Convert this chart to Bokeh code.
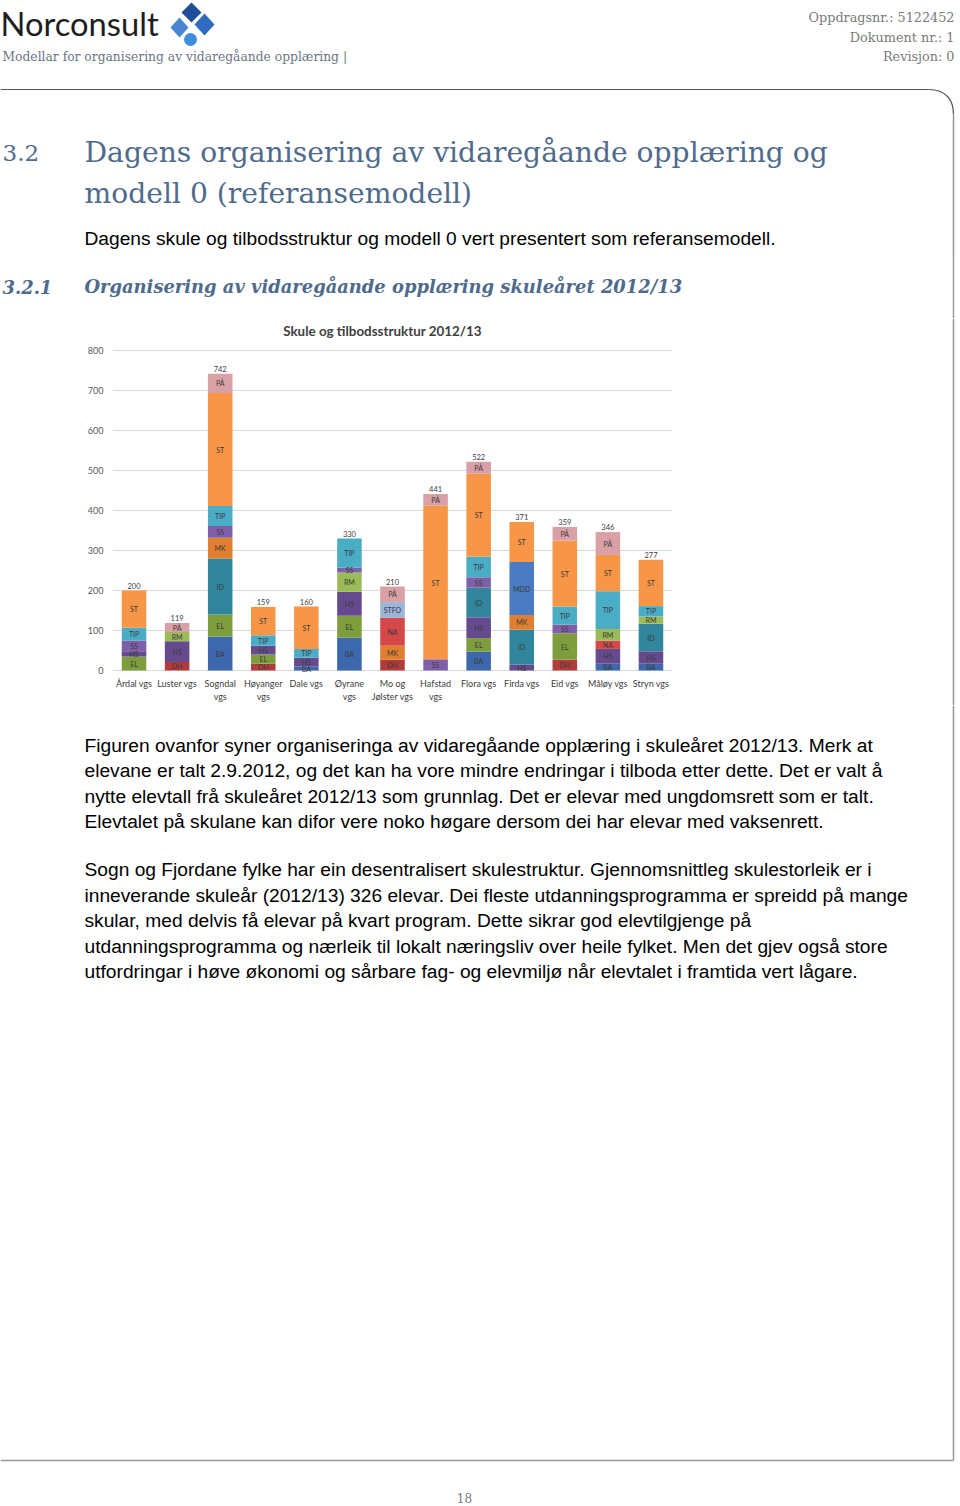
from bokeh.plotting import figure
from bokeh.layouts import column, row
from bokeh.models import Range1d, FactorRange, ColumnDataSource, FixedTicker
from bokeh.core.properties import value
from bokeh.embed import file_html
from bokeh.resources import INLINE

# ---------------- data ----------------
schools = ["Årdal vgs", "Luster vgs", "Sogndal vgs", "Høyanger vgs", "Dale vgs",
           "Øyrane vgs", "Mo og Jølster vgs", "Hafstad vgs", "Flora vgs",
           "Firda vgs", "Eid vgs", "Måløy vgs", "Stryn vgs"]
school_labels = ["Årdal vgs", "Luster vgs", "Sogndal\nvgs", "Høyanger\nvgs", "Dale vgs",
                 "Øyrane\nvgs", "Mo og\nJølster vgs", "Hafstad\nvgs", "Flora vgs",
                 "Firda vgs", "Eid vgs", "Måløy vgs", "Stryn vgs"]
totals = [200, 119, 742, 159, 160, 330, 210, 441, 522, 371, 359, 346, 277]

programmes = [
    ["EL", "HS", "SS", "TIP", "ST"],
    ["DH", "HS", "RM", "PÅ"],
    ["BA", "EL", "ID", "MK", "SS", "TIP", "ST", "PÅ"],
    ["DH", "EL", "HS", "TIP", "ST"],
    ["BA", "HS", "TIP", "ST"],
    ["BA", "EL", "HS", "RM", "SS", "TIP"],
    ["DH", "MK", "NA", "STFO", "PÅ"],
    ["SS", "ST", "PÅ"],
    ["BA", "EL", "HS", "ID", "SS", "TIP", "ST", "PÅ"],
    ["HS", "ID", "MK", "MDD", "ST"],
    ["DH", "EL", "SS", "TIP", "ST", "PÅ"],
    ["BA", "HS", "NA", "RM", "TIP", "ST", "PÅ"],
    ["BA", "HS", "ID", "RM", "TIP", "ST"],
]
students = [
    [35, 13, 27, 32, 93],
    [21, 52, 23, 23],
    [85, 55, 140, 52, 29, 50, 283, 48],
    [17, 23, 22, 26, 71],
    [10, 22, 22, 106],
    [82, 55, 60, 48, 12, 73],
    [27, 35, 70, 39, 39],
    [28, 384, 29],
    [47, 34, 52, 74, 26, 52, 207, 30],
    [15, 87, 37, 132, 100],
    [27, 66, 22, 45, 165, 34],
    [17, 37, 21, 29, 94, 91, 57],
    [17, 31, 69, 18, 26, 116],
]
y_ticks = [0, 100, 200, 300, 400, 500, 600, 700, 800]
chart_title = "Skule og tilbodsstruktur 2012/13"

programme_colors = {
    "ST": "#F79646", "PÅ": "#D9A0A6", "TIP": "#4BACC6", "SS": "#7F5FA8",
    "MK": "#E07F30", "ID": "#31859C", "EL": "#7E9E3E", "BA": "#3D68AE",
    "HS": "#654A8D", "RM": "#9BBB59", "DH": "#B23B3B", "NA": "#D6474A",
    "STFO": "#9AB5D9", "MDD": "#4A7BC3",
}

TEXT_SANS = "Liberation Sans"
SERIF = "DejaVu Serif"
HEAD_COL = "#4F6B8C"
BORDER = "#999999"

# ---------------- header ----------------
hdr = figure(width=960, height=318, x_range=Range1d(0, 960), y_range=Range1d(318, 0),
             x_axis_type=None, y_axis_type=None, output_backend="svg",
             toolbar_location=None, min_border=0)
hdr.outline_line_color = None
hdr.grid.visible = False

hdr.text(x=[0], y=[23], text=["Norconsult"], text_font=value("Lato"),
         text_font_size="32.7px", text_color="#1e1e1e", text_baseline="middle")
# logo
hdr.patches(xs=[[191, 201, 191, 181], [179, 188, 179, 170], [204, 214, 204, 194]],
            ys=[[2, 12, 22, 12], [17, 27, 37, 27], [13, 24, 35, 24]],
            fill_color=["#1F4E9A", "#4A86D0", "#2F6CC0"], line_color=None)
hdr.scatter(x=[190], y=[39], size=13, fill_color="#3E8EDC", line_color=None)

hdr.text(x=[2], y=[56], text=["Modellar for organisering av vidaregåande opplæring |"],
         text_font=value(SERIF), text_font_size="12.3px", text_color="#6A7682",
         text_baseline="middle")
hdr.text(x=[954, 954, 954], y=[17, 37, 56],
         text=["Oppdragsnr.: 5122452", "Dokument nr.: 1", "Revisjon: 0"],
         text_font=value(SERIF), text_font_size="12.8px", text_color="#7A7A7A",
         text_align="right", text_baseline="middle")

# page frame
hdr.segment(x0=[0], y0=[89], x1=[928], y1=[89], line_color="#555555", line_width=1.2)
hdr.bezier(x0=[928], y0=[89], x1=[953], y1=[114], cx0=[946], cy0=[89], cx1=[953], cy1=[100],
           line_color="#555555", line_width=1.2)
hdr.segment(x0=[953], y0=[114], x1=[953], y1=[318], line_color=BORDER, line_width=1.5)

hdr.text(x=[2], y=[152], text=["3.2"], text_font=value(SERIF), text_font_size="23px",
         text_color=HEAD_COL, text_baseline="middle")
hdr.text(x=[84, 84], y=[152, 193],
         text=["Dagens organisering av vidaregåande opplæring og", "modell 0 (referansemodell)"],
         text_font=value(SERIF), text_font_size="28.2px", text_color=HEAD_COL,
         text_baseline="middle")
hdr.text(x=[84], y=[238],
         text=["Dagens skule og tilbodsstruktur og modell 0 vert presentert som referansemodell."],
         text_font=value(TEXT_SANS), text_font_size="19.2px", text_color="#000000",
         text_baseline="middle")
hdr.text(x=[2, 84], y=[286, 286],
         text=["3.2.1", "Organisering av vidaregåande opplæring skuleåret 2012/13"],
         text_font=value(SERIF), text_font_size="17.9px", text_font_style="bold italic",
         text_color=HEAD_COL, text_baseline="middle")

# ---------------- chart ----------------
rows = dict(school=[], bottom=[], top=[], mid=[], prog=[], color=[])
for s, progs, vals in zip(schools, programmes, students):
    base = 0
    for pname, v in zip(progs, vals):
        rows["school"].append(s)
        rows["bottom"].append(base)
        rows["top"].append(base + v)
        rows["mid"].append(base + v / 2)
        rows["prog"].append(pname)
        rows["color"].append(programme_colors[pname])
        base += v
src = ColumnDataSource(rows)

# frame spans the whole chart band (page y 318..705); 0.4 px per student
chart = figure(width=672, height=387, x_range=FactorRange(*schools),
               y_range=Range1d(-87.5, 880),
               output_backend="svg", toolbar_location=None,
               min_border_left=112, min_border_right=0, min_border_top=0, min_border_bottom=0)
chart.outline_line_color = None
chart.xgrid.visible = False
chart.xaxis.visible = False
chart.ygrid.grid_line_color = "#D9D9D9"
chart.ygrid.grid_line_width = 1

chart.vbar(x="school", bottom="bottom", top="top", width=0.57, fill_color="color",
           line_color=None, source=src)
chart.text(x="school", y="mid", text="prog", source=src, text_align="center",
           text_baseline="middle", text_font=value("Lato"), text_font_size="7px",
           text_color="#3A3A3A")
chart.text(x=schools, y=totals, text=[str(t) for t in totals], text_align="center",
           text_baseline="bottom", y_offset=-2, text_font=value("Lato"),
           text_font_size="7.5px", text_color="#404040")
# category labels under the baseline
chart.text(x=schools, y=[0] * len(schools), text=school_labels, text_align="center",
           text_baseline="top", y_offset=7, text_font=value("Lato"),
           text_font_size="9px", text_color="#404040", text_line_height=1.25)
# chart title
chart.text(x=["Mo og Jølster vgs"], y=[y_ticks[-1]], text=[chart_title], text_align="center",
           text_baseline="middle", x_offset=-10, y_offset=-20, text_font=value("Lato"),
           text_font_size="13.4px", text_font_style="bold", text_color="#404040")

chart.yaxis.ticker = FixedTicker(ticks=y_ticks)
chart.yaxis.axis_line_color = None
chart.yaxis.major_tick_line_color = None
chart.yaxis.major_tick_out = 0
chart.yaxis.minor_tick_line_color = None
chart.yaxis.major_label_text_font = "Lato"
chart.yaxis.major_label_text_font_size = "9px"
chart.yaxis.major_label_text_color = "#595959"
chart.yaxis.major_label_standoff = 9

side = figure(width=288, height=387, x_range=Range1d(672, 960), y_range=Range1d(705, 318),
              x_axis_type=None, y_axis_type=None, output_backend="svg",
              toolbar_location=None, min_border=0)
side.outline_line_color = None
side.grid.visible = False
side.segment(x0=[953], y0=[318], x1=[953], y1=[705], line_color=BORDER, line_width=1.5)

# ---------------- footer ----------------
ftr = figure(width=960, height=801, x_range=Range1d(0, 960), y_range=Range1d(1506, 705),
             x_axis_type=None, y_axis_type=None, output_backend="svg",
             toolbar_location=None, min_border=0)
ftr.outline_line_color = None
ftr.grid.visible = False

body_lines = [
    "Figuren ovanfor syner organiseringa av vidaregåande opplæring i skuleåret 2012/13. Merk at",
    "elevane er talt 2.9.2012, og det kan ha vore mindre endringar i tilboda etter dette.  Det er valt å",
    "nytte elevtall frå skuleåret 2012/13 som grunnlag. Det er elevar med ungdomsrett som er talt.",
    "Elevtalet på skulane kan difor vere noko høgare dersom dei har elevar med vaksenrett.",
    "Sogn og Fjordane fylke har ein desentralisert skulestruktur. Gjennomsnittleg skulestorleik er i",
    "inneverande skuleår (2012/13) 326 elevar. Dei fleste utdanningsprogramma er spreidd på mange",
    "skular, med delvis få elevar på kvart program. Dette sikrar god elevtilgjenge på",
    "utdanningsprogramma og nærleik til lokalt næringsliv over heile fylket. Men det gjev også store",
    "utfordringar i høve økonomi og sårbare fag- og elevmiljø når elevtalet i framtida vert lågare.",
]
body_y = [745, 770, 796, 821, 869, 895, 920, 946, 971]
ftr.text(x=[84] * len(body_lines), y=body_y, text=body_lines, text_font=value(TEXT_SANS),
         text_font_size="19.2px", text_color="#000000", text_baseline="middle")

ftr.segment(x0=[953], y0=[705], x1=[953], y1=[1460], line_color=BORDER, line_width=1.5)
ftr.segment(x0=[0], y0=[1460], x1=[953], y1=[1460], line_color=BORDER, line_width=1.5)
ftr.text(x=[464], y=[1497], text=["18"], text_font=value(SERIF), text_font_size="12px",
         text_color="#7A7A7A", text_align="center", text_baseline="middle")

layout = column(hdr, row(chart, side, spacing=0), ftr, spacing=0)
open("out.html", "w").write(file_html(layout, INLINE))
